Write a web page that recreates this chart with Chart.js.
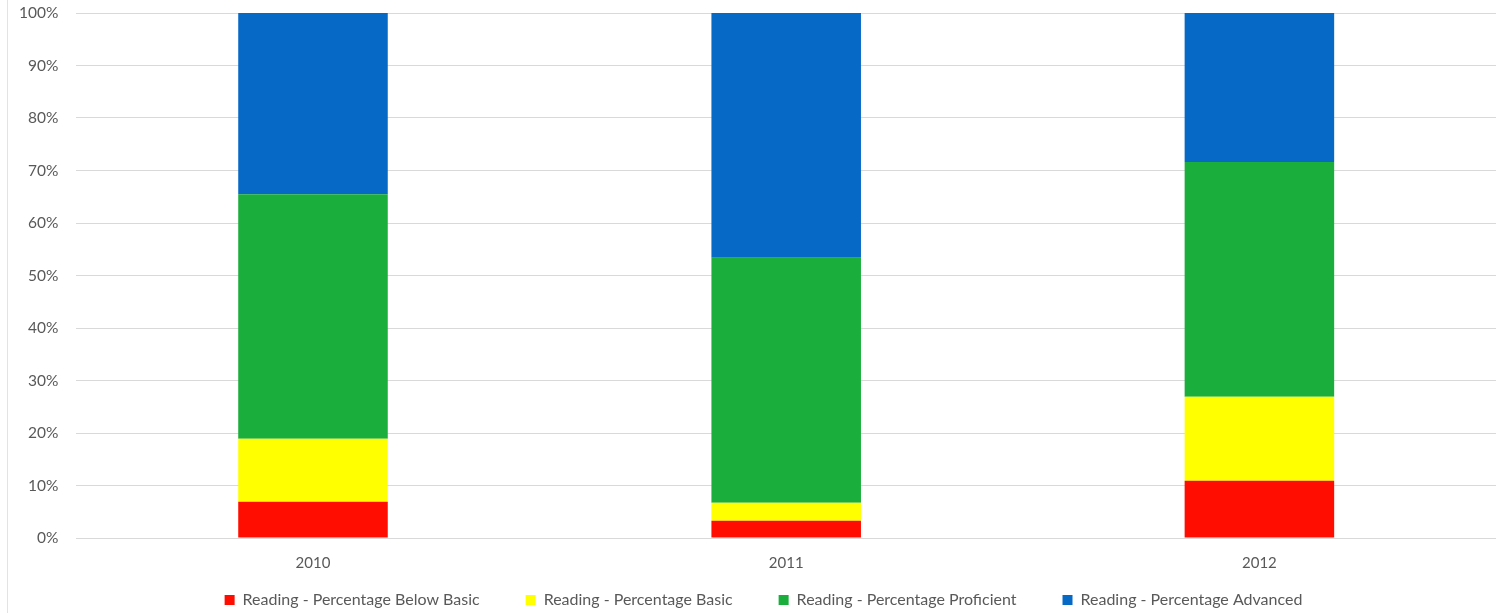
<!DOCTYPE html>
<html lang="en">
<head>
  <meta charset="UTF-8">
  <title>Reading Percentages</title>
  <script src="https://cdn.jsdelivr.net/npm/chart.js"></script>
  <style>
    html, body { margin: 0; padding: 0; background: #fff; }
    #wrap { width: 1499px; height: 613px; position: relative; }
    #edge { position: absolute; left: 7px; top: 0; width: 1px; height: 613px; background: #e3e3e3; }
  </style>
</head>
<body>
  <div id="wrap">
    <div id="edge"></div>
    <canvas id="readingChart" width="1499" height="613"></canvas>
  </div>

  <script>
    // categories and series
    const years = ['2010', '2011', '2012'];
    const belowBasic = [6.9, 3.3, 10.9];
    const basic = [12.0, 3.4, 16.0];
    const proficient = [46.6, 46.7, 44.7];
    const advanced = [34.5, 46.6, 28.4];

    const labelColor = '#595959';
    const fontFamily = 'Lato, Open Sans, sans-serif';

    // the x axis is squeezed so the legend sits close; let its labels draw below the box,
    // and nudge the legend row a bit to the right like in the original
    const layoutTweaks = {
      id: 'layoutTweaks',
      afterLayout(chart) {
        chart.scales.x.bottom = chart.height;
        chart.legend.left += 15;
        chart.legend.right += 15;
      },
    };

    const ctx = document.getElementById('readingChart').getContext('2d');
    new Chart(ctx, {
      type: 'bar',
      data: {
        labels: years,
        datasets: [
          { label: 'Reading - Percentage Below Basic', data: belowBasic, backgroundColor: '#ff0d00' },
          { label: 'Reading - Percentage Basic', data: basic, backgroundColor: '#ffff00' },
          { label: 'Reading - Percentage Proficient', data: proficient, backgroundColor: '#1aaf3c' },
          { label: 'Reading - Percentage Advanced', data: advanced, backgroundColor: '#0769c6' },
        ],
      },
      plugins: [layoutTweaks],
      options: {
        responsive: false,
        animation: false,
        layout: { padding: { left: 1, right: 3, top: 0, bottom: 0 } },
        datasets: {
          bar: { barPercentage: 0.316, categoryPercentage: 1.0, borderWidth: 0 },
        },
        plugins: {
          tooltip: { enabled: false },
          legend: {
            position: 'bottom',
            maxHeight: 67,
            labels: {
              color: labelColor,
              boxWidth: 10,
              boxHeight: 10,
              padding: 46,
              font: { family: fontFamily, size: 16 },
            },
          },
        },
        scales: {
          x: {
            stacked: true,
            grid: { display: false },
            border: { display: false },
            ticks: { color: labelColor, font: { family: fontFamily, size: 15 }, padding: 8 },
            afterFit: (scale) => { scale.height = 8; },
          },
          y: {
            stacked: true,
            min: 0,
            max: 100,
            grid: { color: '#d9d9d9', drawTicks: false, lineWidth: 1 },
            border: { display: false },
            ticks: {
              stepSize: 10,
              color: labelColor,
              padding: 18,
              font: { family: fontFamily, size: 15.5 },
              callback: (v) => v + '%',
            },
            afterFit: (scale) => { scale.paddingTop = 13; },
          },
        },
      },
    });
  </script>
</body>
</html>
